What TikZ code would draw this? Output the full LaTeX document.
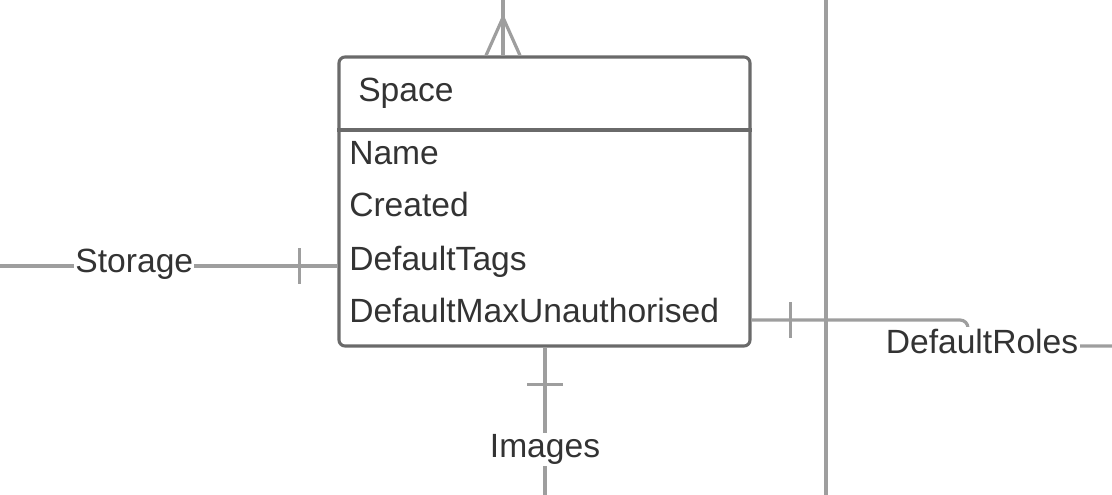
\documentclass[tikz,border=0pt]{standalone}
\usepackage{fontspec}
\setmainfont{Liberation Sans}
\definecolor{linha}{HTML}{9E9E9E}
\definecolor{borda}{HTML}{6A6A6A}
\definecolor{texto}{HTML}{333333}

\begin{document}
\begin{tikzpicture}[x=0.75pt,y=-0.75pt,
		conector/.style={draw=linha, line width=2.4pt},
		rotulo/.style={fill=white, inner sep=1pt, text=texto, font=\fontsize{25.2}{30}\selectfont},
		campo/.style={anchor=base west, inner sep=0pt, text=texto, font=\fontsize{25.2}{30}\selectfont}]
				
				\useasboundingbox (0,0) rectangle (1112,495);
				
				% linha vertical solta
				\coordinate (vtopo) at (826,0);
				\coordinate (vbase) at (826,495);
				\draw[conector] (vtopo) -- (vbase);
				
				% entidade
				\node (space) [draw=borda, line width=2.3pt, rounded corners=4.5pt, minimum width=308.25pt, minimum height=216.75pt, inner sep=0pt] at (544.5,201.5) {};
				\draw[borda, line width=2.3pt] (space.west |- 0,130) -- (space.east |- 0,130);
				
				\node[campo] (titulo) at (358,102) {Space};
				\node[campo] (name) at (349,165) {Name};
				\node[campo] (created) at (349,217) {Created};
				\node[campo] (tags) at (349,270) {DefaultTags};
				\node[campo] (maxun) at (349,322) {DefaultMaxUnauthorised};
				
				% conectores
				\coordinate (topo) at (503,0);
				\draw[conector] (topo) -- (topo |- space.north);
				\draw[conector] (topo |- space.north) ++(-17,0) -- ++(17,-38) -- ++(17,38);
				
				\coordinate (storage) at (0,266);
				\draw[conector] (storage) -- node[rotulo, pos=0.398, yshift=1pt] {Storage} (storage -| space.west);
				\draw[conector] (storage -| space.west) ++(-38,-18) -- ++(0,36);
				
				\coordinate (images) at (545,495);
				\draw[conector] (images |- space.south) -- node[rotulo, pos=0.69] {Images} (images);
				\draw[conector] (images |- space.south) ++(-18,37) -- ++(36,0);
				
				\coordinate (roles) at (1112,346);
				\draw[conector, rounded corners=6pt] (space.east |- 0,320) -- (968,320) -- (968,346) -- (roles);
				\draw[conector] (space.east |- 0,320) ++(39,-18) -- ++(0,36);
				\node[rotulo] (rolesrot) at (982,341) {DefaultRoles};
				
			\end{tikzpicture}
\end{document}
